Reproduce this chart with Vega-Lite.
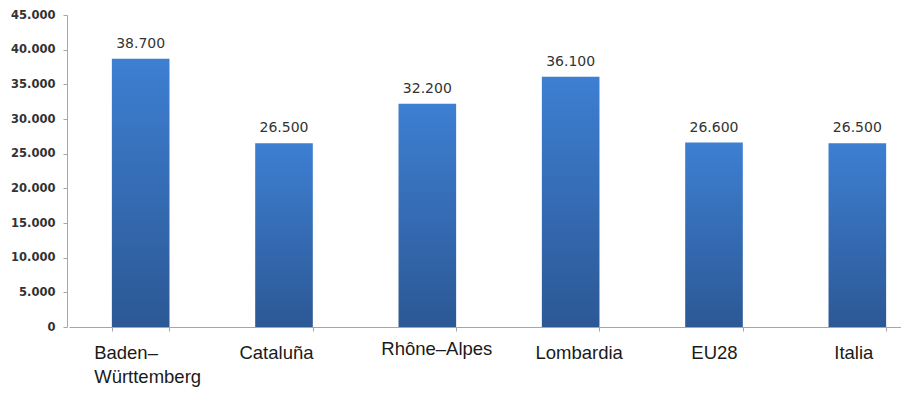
{
  "$schema": "https://vega.github.io/schema/vega-lite/v6.json",
  "autosize": {"type": "none"},
  "width": 834,
  "height": 312,
  "padding": {"left": 67, "top": 15, "right": 0, "bottom": 67},
  "background": "white",
  "config": {
    "view": {"stroke": null},
    "locale": {"number": {"decimal": ",", "thousands": ".", "grouping": [3], "currency": ["", " €"]}}
  },
  "data": {
    "values": [
      {"region": "Baden–Württemberg", "value": 38700},
      {"region": "Cataluña", "value": 26500},
      {"region": "Rhône–Alpes", "value": 32200},
      {"region": "Lombardia", "value": 36100},
      {"region": "EU28", "value": 26600},
      {"region": "Italia", "value": 26500}
    ]
  },
  "encoding": {
    "x": {
      "field": "region",
      "type": "nominal",
      "sort": null,
      "scale": {"range": [2, 862], "paddingInner": 0.598, "paddingOuter": 0.299},
      "axis": {
        "title": null,
        "labelAngle": 0,
        "domainColor": "#a6a6a6",
        "tickColor": "#a6a6a6",
        "tickBand": "extent",
        "tickSize": 4,
        "labelFont": "Liberation Sans",
        "labelFontSize": 18.5,
        "labelColor": "#1a1a1a",
        "labelBaseline": "top",
        "labelLineHeight": 24.5,
        "labelExpr": "datum.value == 'Baden–Württemberg' ? ['Baden–', 'Württemberg'] : datum.label",
        "labelAlign": {"expr": "datum.value == 'Baden–Württemberg' ? 'left' : 'center'"},
        "labelOffset": {"expr": "datum.value == 'Baden–Württemberg' ? -47 : datum.value == 'Cataluña' ? -8 : datum.value == 'Rhône–Alpes' ? 9 : datum.value == 'Lombardia' ? 8 : datum.value == 'Italia' ? -4 : 0"},
        "labelPadding": {"expr": "datum.value == 'Rhône–Alpes' ? 8 : 12"}
      }
    },
    "y": {
      "field": "value",
      "type": "quantitative",
      "scale": {"domain": [0, 45000], "nice": false},
      "axis": {
        "title": null,
        "values": [0, 5000, 10000, 15000, 20000, 25000, 30000, 35000, 40000, 45000],
        "format": ",d",
        "grid": false,
        "domainColor": "#a6a6a6",
        "tickColor": "#a6a6a6",
        "tickSize": 4,
        "labelPadding": 8,
        "labelFont": "DejaVu Sans",
        "labelFontSize": 11.5,
        "labelFontWeight": "bold",
        "labelColor": "#333333"
      }
    }
  },
  "layer": [
    {
      "mark": {
        "type": "bar",
        "color": {
          "gradient": "linear",
          "x1": 0, "y1": 0, "x2": 0, "y2": 1,
          "stops": [
            {"offset": 0, "color": "#3d7fd2"},
            {"offset": 1, "color": "#2c5895"}
          ]
        }
      }
    },
    {
      "mark": {
        "type": "text",
        "baseline": "alphabetic",
        "dy": -11,
        "font": "DejaVu Sans",
        "fontSize": 14,
        "color": "#333333"
      },
      "encoding": {
        "text": {"field": "value", "type": "quantitative", "format": ",d"}
      }
    }
  ]
}
